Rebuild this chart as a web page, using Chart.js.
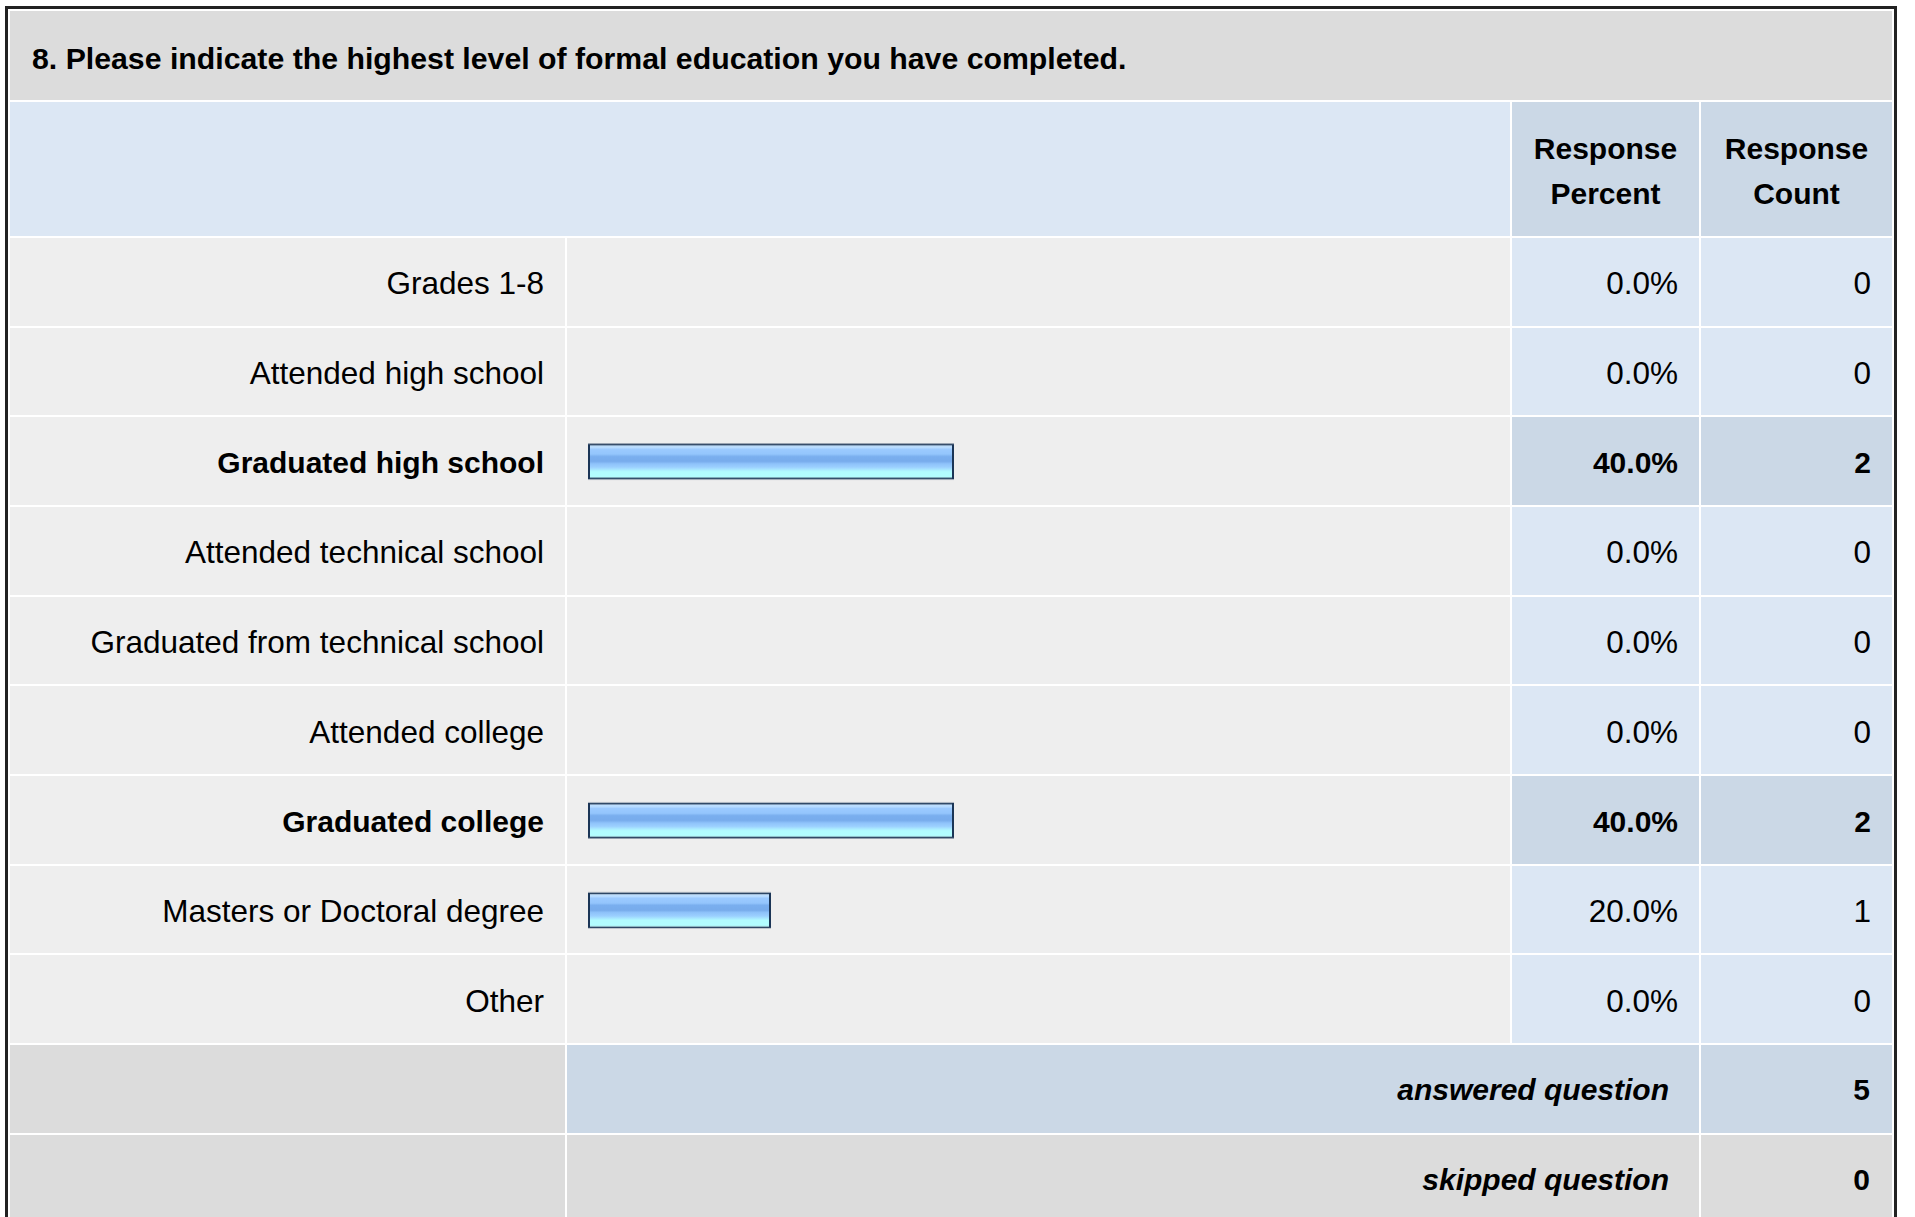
<!DOCTYPE html>
<html>
<head>
<meta charset="utf-8">
<script src="https://cdn.jsdelivr.net/npm/chart.js@4.4.1/dist/chart.umd.min.js"></script>
<style>
  html, body { margin: 0; padding: 0; background: #fff; overflow: hidden; }
  body { width: 1915px; height: 1217px; position: relative; font-family: "Liberation Sans", Arial, sans-serif; color: #000; }
  #box { position: absolute; left: 5px; top: 6px; border: 3px solid #222; border-bottom: none; }
  table { border-collapse: separate; border-spacing: 2px; table-layout: fixed; background: #fff; }
  td { padding: 0; }
  .title td { background: #dcdcdc; height: 89px; font-weight: bold; font-size: 30.25px; padding: 6px 0 0 22px; box-sizing: border-box; }
  .head td { height: 134px; background: #dce7f4; font-weight: bold; font-size: 30px; line-height: 45px; text-align: center; padding-top: 4px; box-sizing: border-box; }
  .head td.val { background: #cbd8e6; }
  .data td { height: 87.67px; font-size: 31.5px; padding-top: 4px; box-sizing: border-box; }
  .data td.lbl { background: #eeeeee; text-align: right; padding-right: 21px; }
  .data td.bar { background: #eeeeee; }
  .data td.num { background: #dce7f4; text-align: right; padding-right: 21px; }
  .data.top td { font-weight: bold; font-size: 30px; }
  .data.top td.num { background: #cbd8e6; }
  .sum td { height: 88px; background: #dcdcdc; font-weight: bold; font-size: 30px; text-align: right; padding-right: 22px; padding-top: 2px; box-sizing: border-box; }
  .sum td.it { font-style: italic; padding-right: 30px; }
  .sum.ans td.blue { background: #cbd8e6; }
  #chartWrap { position: absolute; }
</style>
</head>
<body>
<div id="box">
  <table id="tbl">
    <colgroup>
      <col style="width:555px"><col style="width:943px"><col style="width:187px"><col style="width:191px">
    </colgroup>
    <tbody id="tb"></tbody>
  </table>
</div>
<div id="chartWrap"><canvas id="grafico"></canvas></div>

<script>
const pergunta = '8. Please indicate the highest level of formal education you have completed.';
const categorias = [
  'Grades 1-8',
  'Attended high school',
  'Graduated high school',
  'Attended technical school',
  'Graduated from technical school',
  'Attended college',
  'Graduated college',
  'Masters or Doctoral degree',
  'Other'
];
const percentuais = [0, 0, 40, 0, 0, 0, 40, 20, 0];
const contagens = [0, 0, 2, 0, 0, 0, 2, 1, 0];
const respondidas = 5;
const puladas = 0;

// montar a tabela
const tb = document.getElementById('tb');
const maxCont = Math.max(...contagens);
let html = '<tr class="title"><td colspan="4">' + pergunta + '</td></tr>';
html += '<tr class="head"><td colspan="2"></td><td class="val">Response<br>Percent</td><td class="val">Response<br>Count</td></tr>';
categorias.forEach((c, i) => {
  const cls = contagens[i] === maxCont ? 'data top' : 'data';
  html += '<tr class="' + cls + '"><td class="lbl">' + c + '</td><td class="bar"></td>' +
          '<td class="num">' + percentuais[i].toFixed(1) + '%</td><td class="num">' + contagens[i] + '</td></tr>';
});
html += '<tr class="sum ans"><td></td><td colspan="2" class="it blue">answered question</td><td class="blue">' + respondidas + '</td></tr>';
html += '<tr class="sum"><td></td><td colspan="2" class="it">skipped question</td><td>' + puladas + '</td></tr>';
tb.innerHTML = html;

// posicionar o canvas sobre a coluna das barras
const linhas = document.querySelectorAll('tr.data');
const r1 = linhas[0].getBoundingClientRect();
const r2 = linhas[1].getBoundingClientRect();
const celBarra = linhas[0].querySelector('td.bar').getBoundingClientRect();
const passo = r2.top - r1.top;
const wrap = document.getElementById('chartWrap');
wrap.style.left = (celBarra.left + 21) + 'px';
wrap.style.width = (celBarra.width - 28) + 'px';
wrap.style.top = (r1.top - 1) + 'px';
wrap.style.height = (passo * linhas.length) + 'px';

const espessura = 36;
let gradientes = [];

// gradientes calculados depois do layout (escala y já pronta)
const pluginGradiente = {
  id: 'gradiente',
  afterLayout(chart) {
    const y = chart.scales.y;
    const c = chart.ctx;
    gradientes = categorias.map((_, i) => {
      const yc = y.getPixelForValue(i);
      if (!isFinite(yc)) return '#90c4fc';
      const g = c.createLinearGradient(0, yc - espessura / 2, 0, yc + espessura / 2);
      g.addColorStop(0, '#c4e2ff');
      g.addColorStop(0.12, '#b8dcff');
      g.addColorStop(0.16, '#9ccaff');
      g.addColorStop(0.30, '#94c6fd');
      g.addColorStop(0.36, '#7aafef');
      g.addColorStop(0.50, '#78acec');
      g.addColorStop(0.56, '#8ec2fa');
      g.addColorStop(0.66, '#9cd0ff');
      g.addColorStop(0.72, '#a8e6ff');
      g.addColorStop(0.78, '#b2fcff');
      g.addColorStop(1, '#b2ffff');
      return g;
    });
  }
};

new Chart(document.getElementById('grafico').getContext('2d'), {
  type: 'bar',
  data: {
    labels: categorias,
    datasets: [{
      data: percentuais,
      backgroundColor: ctx => (percentuais[ctx.dataIndex] > 0 ? (gradientes[ctx.dataIndex] || '#90c4fc') : 'rgba(0,0,0,0)'),
      borderColor: '#1b3556',
      borderWidth: ctx => (percentuais[ctx.dataIndex] > 0 ? 2 : 0),
      borderSkipped: false,
      inflateAmount: 0,
      barThickness: espessura
    }]
  },
  options: {
    indexAxis: 'y',
    responsive: true,
    maintainAspectRatio: false,
    animation: false,
    layout: { padding: 0 },
    plugins: { legend: { display: false }, tooltip: { enabled: false } },
    scales: {
      x: { display: false, min: 0, max: 100 },
      y: { display: false }
    }
  },
  plugins: [pluginGradiente]
});
</script>
</body>
</html>
